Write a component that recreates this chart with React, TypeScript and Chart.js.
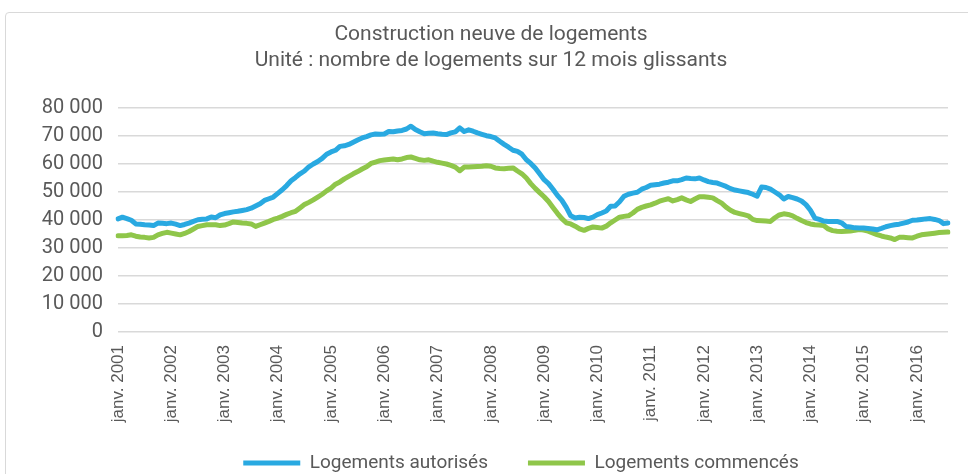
import { useEffect, useRef } from 'react';
import { Chart, registerables } from 'chart.js';

Chart.register(...registerables);

const titleLines = ['Construction neuve de logements', 'Unité : nombre de logements sur 12 mois glissants'];
const monthNames = ['janv.', 'févr.', 'mars', 'avr.', 'mai', 'juin', 'juil.', 'août', 'sept.', 'oct.', 'nov.', 'déc.'];
const firstYear = 2001;
const monthCount = 188;
const categories = Array.from({ length: monthCount }, (_, i) => `${monthNames[i % 12]} ${firstYear + Math.floor(i / 12)}`);

const seriesNames = ['Logements autorisés', 'Logements commencés'];

const autorises = [
  40400, 41000, 40500, 39900, 38600, 38500, 38300, 38200, 38000, 38900, 38800, 38700,
  38900, 38500, 38000, 38400, 38900, 39500, 40100, 40300, 40400, 41100, 40800, 41800,
  42300, 42600, 42900, 43100, 43400, 43700, 44200, 45000, 45800, 47000, 47600, 48200,
  49500, 50800, 52300, 54000, 55200, 56500, 57500, 59000, 60000, 60900, 62000, 63500,
  64300, 64900, 66300, 66500, 67000, 67800, 68600, 69300, 69800, 70400, 70700, 70600,
  70700, 71600, 71500, 71800, 72000, 72500, 73500, 72300, 71500, 70800, 71000, 71100,
  70800, 70600, 70500, 71100, 71500, 72900, 71600, 72200, 71700, 71100, 70600, 70100,
  69800, 69300, 68100, 67000, 66000, 64900, 64500, 63500, 61500, 60200, 58600, 56500,
  54400, 53000, 51000, 48800, 47000, 44500, 41500, 40700, 41000, 40900, 40500, 41000,
  41900, 42500, 43200, 44900, 45000, 46500, 48500, 49200, 49600, 49900, 51000, 51600,
  52400, 52600, 52800, 53200, 53500, 54000, 54000, 54400, 55000, 54800, 54700, 55000,
  54300, 53700, 53400, 53200, 52600, 52000, 51200, 50700, 50400, 50100, 49800, 49200,
  48500, 51800, 51600, 51000, 50000, 49000, 47500, 48400, 48000, 47500, 46800, 45500,
  43500, 40700, 40200, 39600, 39500, 39500, 39500, 39000, 37700, 37500, 37200, 37100,
  37100, 37000, 36800, 36500, 37000, 37600, 38000, 38300, 38500, 38900, 39300, 39900,
  40000, 40200, 40400, 40500, 40200, 39800, 38700, 38900,
];

const commences = [
  34400, 34400, 34500, 34700, 34200, 33900, 33800, 33600, 33800, 34700, 35200, 35600,
  35300, 35000, 34700, 35200, 35900, 36800, 37700, 38000, 38300, 38300, 38300, 38000,
  38200, 38700, 39300, 39100, 38900, 38800, 38600, 37700, 38300, 38900, 39500, 40200,
  40700, 41300, 42000, 42600, 43100, 44300, 45500, 46300, 47200, 48200, 49200, 50400,
  51400, 52800, 53600, 54700, 55600, 56500, 57300, 58200, 59000, 60200, 60700, 61200,
  61400, 61600, 61800, 61500, 61800, 62300, 62500, 62000, 61500, 61300, 61500, 61000,
  60600, 60300, 60000, 59500, 58900, 57600, 58900, 58900, 59000, 59100, 59200, 59400,
  59200, 58600, 58400, 58300, 58500, 58600, 57500, 56500, 55000, 53000, 51300, 49800,
  48300, 46600, 44500, 42400, 40500, 39000, 38600, 37800, 36800, 36300, 37000, 37500,
  37300, 37100, 37800, 39000, 40000, 41000, 41300, 41500, 42500, 43800, 44500, 45000,
  45400, 46000, 46700, 47200, 47600, 46800, 47300, 47900, 47200, 46600, 47500, 48300,
  48300, 48100, 47900, 46900, 46000, 44600, 43500, 42700, 42300, 41900, 41500, 40200,
  39800, 39700, 39600, 39500, 40800, 41800, 42200, 42000, 41500, 40600, 39800, 39100,
  38600, 38300, 38200, 38000, 36800, 36200, 36000, 35900, 36000, 36100, 36300, 36600,
  36400, 36000, 35400, 34800, 34300, 33900, 33600, 33000, 33800, 33800, 33700, 33600,
  34200, 34700, 34900, 35100, 35300, 35500, 35600, 35700,
];

const yMin = 0;
const yMax = 80000;
const yStep = 10000;

const BLUE = '#29a9e1';
const GREEN = '#8fc64a';
const TEXT = '#595959';
const GRID = '#d9d9d9';

const formatThousands = (v: number) => String(v).replace(/\B(?=(\d{3})+(?!\d))/g, ' ');

const shiftBoxes = {
  id: 'shiftBoxes',
  afterLayout(chart: any) {
    const lg = chart.legend;
    if (lg) {
      lg.left += 47;
      lg.right += 47;
      lg.top -= 30;
      lg.height = lg.bottom - lg.top;
    }
    const tt = chart.titleBlock;
    if (tt) {
      tt.left += 17;
      tt.right += 17;
    }
  },
};

export default function App() {
  const canvasRef = useRef<HTMLCanvasElement | null>(null);

  useEffect(() => {
    const canvas = canvasRef.current;
    if (!canvas) return;
    const chart = new Chart(canvas, {
      type: 'line',
      data: {
        labels: categories,
        datasets: [
          {
            label: seriesNames[0],
            data: autorises,
            borderColor: BLUE,
            backgroundColor: BLUE,
            borderWidth: 5,
            pointRadius: 0,
            borderCapStyle: 'round',
            borderJoinStyle: 'round',
            tension: 0,
          },
          {
            label: seriesNames[1],
            data: commences,
            borderColor: GREEN,
            backgroundColor: GREEN,
            borderWidth: 5,
            pointRadius: 0,
            borderCapStyle: 'round',
            borderJoinStyle: 'round',
            tension: 0,
          },
        ],
      },
      options: {
        responsive: false,
        animation: false,
        events: [],
        layout: { padding: { top: 12, left: 0, right: 20, bottom: 1.5 } },
        plugins: {
          title: {
            display: true,
            text: titleLines,
            color: TEXT,
            font: { family: 'Roboto', size: 21, weight: 'normal', lineHeight: '26px' },
            padding: { top: 10, bottom: 34 },
          },
          legend: {
            position: 'bottom',
            maxHeight: 29,
            labels: {
              usePointStyle: true,
              pointStyle: 'line',
              pointStyleWidth: 57,
              padding: 40,
              color: TEXT,
              font: { family: 'Roboto', size: 19 },
            },
          },
          tooltip: { enabled: false },
        },
        scales: {
          x: {
            type: 'category',
            offset: false,
            grid: { display: false, drawTicks: false },
            border: { display: false },
            ticks: {
              autoSkip: false,
              minRotation: 90,
              maxRotation: 90,
              padding: 13,
              color: TEXT,
              font: { family: 'Liberation Sans', size: 17 },
              callback: (_v: any, i: number) => (i % 12 === 0 ? categories[i] : null),
            },
            afterFit: (s: any) => {
              s.height = 111.5;
            },
          },
          y: {
            min: yMin,
            max: yMax,
            grid: { color: GRID, lineWidth: 1.5, drawTicks: false },
            border: { display: false },
            ticks: {
              stepSize: yStep,
              padding: 15,
              color: TEXT,
              font: { family: 'Roboto', size: 20 },
              callback: (v: any) => formatThousands(Number(v)),
            },
            afterFit: (s: any) => {
              s.width = 118;
            },
          },
        },
      },
      plugins: [shiftBoxes],
    });
    return () => chart.destroy();
  }, []);

  return (
    <div style={{ position: 'absolute', left: 0, top: 0, width: 968, height: 474, overflow: 'hidden', background: '#fff' }}>
      <div style={{ position: 'absolute', left: 5, top: 12, width: 1000, height: 500, border: `1px solid ${GRID}`, borderRadius: 4 }} />
      <canvas ref={canvasRef} width={968} height={474} style={{ position: 'absolute', left: 0, top: 0, width: 968, height: 474 }} />
    </div>
  );
}
